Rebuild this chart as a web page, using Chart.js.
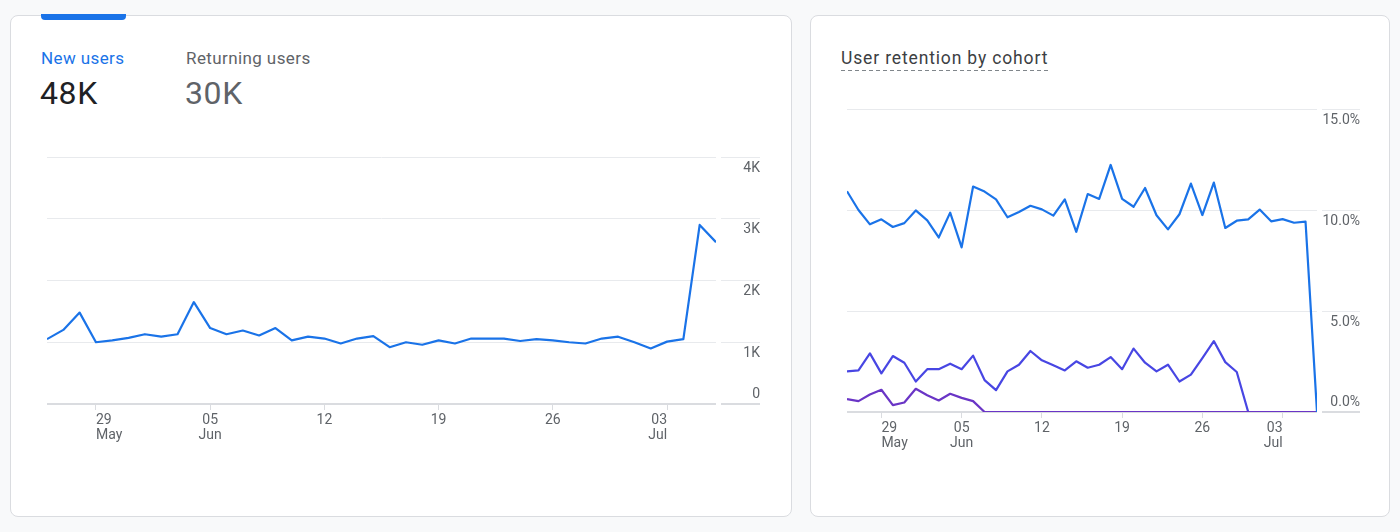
<!DOCTYPE html>
<html>
<head>
<meta charset="utf-8">
<script src="https://cdn.jsdelivr.net/npm/chart.js@4.4.1/dist/chart.umd.min.js"></script>
<style>
  body { margin: 0; width: 1400px; height: 532px; overflow: hidden; position: relative; background: #f8f9fa; font-family: Roboto, Arial, sans-serif; }
  .card { position: absolute; top: 15px; height: 502px; background: #fff; border: 1px solid #dadce0; border-radius: 8px; box-sizing: border-box; }
  #leftCard { left: 10px; width: 782px; }
  #rightCard { left: 810px; width: 580px; }
  .tab { position: absolute; left: 41px; top: 14px; width: 85px; height: 6px; background: #1a73e8; border-radius: 0 0 4px 4px; }
  .label { position: absolute; font-size: 17px; line-height: 20px; letter-spacing: 0.4px; white-space: nowrap; }
  .value { position: absolute; font-size: 32px; line-height: 36px; letter-spacing: 0.6px; white-space: nowrap; }
  .title { position: absolute; left: 841px; top: 48px; font-size: 17.5px; line-height: 20px; letter-spacing: 0.85px; color: #3c4043; padding-bottom: 3px;
    background-image: linear-gradient(to right, #80868b 55%, transparent 45%); background-size: 7px 1.5px; background-repeat: repeat-x; background-position: left bottom; }
  canvas { position: absolute; }
</style>
</head>
<body>
<div class="card" id="leftCard"></div>
<div class="card" id="rightCard"></div>
<div class="tab"></div>

<div class="label" style="left:41px; top:48px; color:#1a73e8;">New users</div>
<div class="value" style="left:40px; top:75px; color:#202124;">48K</div>
<div class="label" style="left:186px; top:48px; color:#5f6368;">Returning users</div>
<div class="value" style="left:185px; top:75px; color:#5f6368;">30K</div>

<div class="title">User retention by cohort</div>

<canvas id="usersChart" width="733" height="320" style="left:37px; top:140px; width:733px; height:320px;"></canvas>
<canvas id="retentionChart" width="533" height="380" style="left:837px; top:90px; width:533px; height:380px;"></canvas>

<script>
// Days shown on both charts
const dates = [
  'May 26', 'May 27', 'May 28', 'May 29', 'May 30', 'May 31',
  'Jun 1', 'Jun 2', 'Jun 3', 'Jun 4', 'Jun 5', 'Jun 6', 'Jun 7', 'Jun 8', 'Jun 9', 'Jun 10',
  'Jun 11', 'Jun 12', 'Jun 13', 'Jun 14', 'Jun 15', 'Jun 16', 'Jun 17', 'Jun 18', 'Jun 19', 'Jun 20',
  'Jun 21', 'Jun 22', 'Jun 23', 'Jun 24', 'Jun 25', 'Jun 26', 'Jun 27', 'Jun 28', 'Jun 29', 'Jun 30',
  'Jul 1', 'Jul 2', 'Jul 3', 'Jul 4', 'Jul 5', 'Jul 6'
];

// X axis tick labels
const tickDates = ['May 29', 'Jun 5', 'Jun 12', 'Jun 19', 'Jun 26', 'Jul 3'];
const tickLabels = [['29', 'May'], ['05', 'Jun'], ['12'], ['19'], ['26'], ['03', 'Jul']];

// New users per day
const newUsers = [
  1050, 1200, 1480, 1000, 1030, 1070, 1130, 1090, 1130, 1650,
  1230, 1130, 1190, 1110, 1230, 1030, 1090, 1060, 980, 1060,
  1100, 920, 1000, 960, 1030, 980, 1060, 1060, 1060, 1020,
  1050, 1030, 1000, 980, 1060, 1090, 1000, 900, 1010, 1050,
  2900, 2620
];

// User retention by cohort (%)
const retentionDay1 = [
  10.93, 10.0, 9.29, 9.54, 9.16, 9.35, 9.98, 9.49, 8.64, 9.87,
  8.15, 11.16, 10.91, 10.53, 9.64, 9.90, 10.21, 10.03, 9.72, 10.53,
  8.92, 10.79, 10.55, 12.23, 10.55, 10.16, 11.09, 9.74, 9.04, 9.79,
  11.31, 9.75, 11.36, 9.11, 9.47, 9.54, 10.02, 9.44, 9.55, 9.37,
  9.42, 0
];
const retentionDay7 = [
  2.01, 2.06, 2.90, 1.91, 2.77, 2.44, 1.51, 2.12, 2.12, 2.39,
  2.12, 2.79, 1.58, 1.08, 2.01, 2.34, 3.02, 2.56, 2.31, 2.06,
  2.51, 2.19, 2.34, 2.72, 2.12, 3.14, 2.44, 2.01, 2.34, 1.51,
  1.85, 2.67, 3.51, 2.47, 1.98, 0, 0, 0, 0, 0,
  0, 0
];
const retentionDay30 = [
  0.64, 0.54, 0.87, 1.10, 0.34, 0.47, 1.15, 0.83, 0.57, 0.90,
  0.70, 0.54, 0, 0, 0, 0, 0, 0, 0, 0,
  0, 0, 0, 0, 0, 0, 0, 0, 0, 0,
  0, 0, 0, 0, 0, 0, 0, 0, 0, 0,
  0, 0
];

const toPoints = arr => arr.map((v, i) => ({ x: i, y: v }));

const gridColor = '#e8eaed';
const baseColor = '#dadce0';
const textColor = '#5f6368';

function xAxis(height) {
  return {
    type: 'linear',
    min: 0,
    max: dates.length - 1,
    afterBuildTicks: axis => {
      axis.ticks = tickDates.map(d => ({ value: dates.indexOf(d) }));
    },
    afterFit: scale => { scale.height = height; },
    border: { display: false },
    grid: { drawOnChartArea: false, drawTicks: true, tickLength: 6, tickColor: baseColor },
    ticks: {
      autoSkip: false,
      maxRotation: 0,
      align: 'inner',
      padding: 3,
      color: textColor,
      font: { family: 'Roboto', size: 14, lineHeight: 1.05 },
      callback: (v, i) => tickLabels[i]
    }
  };
}

function yAxis(width, max, step, fmt) {
  return {
    position: 'right',
    min: 0,
    max: max,
    afterFit: scale => { scale.width = width; },
    border: { display: false },
    grid: {
      color: ctx => ctx.tick.value === 0 ? baseColor : gridColor,
      lineWidth: ctx => ctx.tick.value === 0 ? 2 : 1,
      drawTicks: true,
      tickLength: width,
      tickColor: ctx => ctx.tick.value === 0 ? baseColor : gridColor,
      tickWidth: ctx => ctx.tick.value === 0 ? 2 : 1,
      tickBorderDash: [0, 5, width, 20]
    },
    ticks: {
      stepSize: step,
      autoSkip: false,
      crossAlign: 'far',
      padding: 0,
      labelOffset: 11,
      color: textColor,
      font: { family: 'Roboto', size: 14, lineHeight: 1.5 },
      // bottom label sits above the baseline
      callback: v => v === 0 ? [fmt(v), '', ''] : fmt(v)
    }
  };
}

const lineStyle = {
  borderWidth: 2.2,
  pointRadius: 0,
  pointHoverRadius: 0,
  tension: 0,
  borderJoinStyle: 'round',
  fill: false
};

new Chart(document.getElementById('usersChart'), {
  type: 'line',
  data: {
    datasets: [
      { label: 'New users', data: toPoints(newUsers), borderColor: '#1a73e8', ...lineStyle }
    ]
  },
  options: {
    responsive: false,
    animation: false,
    layout: { padding: { left: 10, right: 10, top: 17, bottom: 10 } },
    plugins: { legend: { display: false }, tooltip: { enabled: false } },
    scales: {
      x: xAxis(46),
      y: yAxis(44, 4000, 1000, v => v === 0 ? '0' : (v / 1000) + 'K')
    }
  }
});

new Chart(document.getElementById('retentionChart'), {
  type: 'line',
  data: {
    datasets: [
      { label: 'Day 1', data: toPoints(retentionDay1), borderColor: '#1a73e8', ...lineStyle },
      { label: 'Day 30', data: toPoints(retentionDay30), borderColor: '#6a35c6', ...lineStyle },
      { label: 'Day 7', data: toPoints(retentionDay7), borderColor: '#4846e3', ...lineStyle }
    ]
  },
  options: {
    responsive: false,
    animation: false,
    layout: { padding: { left: 10, right: 10, top: 19, bottom: 10 } },
    plugins: { legend: { display: false }, tooltip: { enabled: false } },
    scales: {
      x: xAxis(48),
      y: yAxis(43, 15, 5, v => v.toFixed(1) + '%')
    }
  }
});
</script>
</body>
</html>
